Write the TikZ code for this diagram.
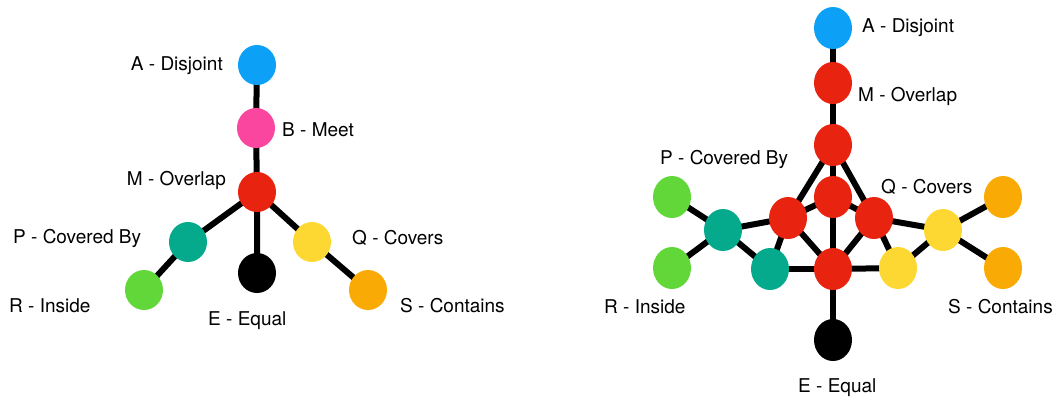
\documentclass[tikz,border=0pt]{standalone}
\usepackage{fontspec}
\setmainfont{TeX Gyre Heros}
\usetikzlibrary{shapes.geometric,backgrounds}
\definecolor{cblue}{RGB}{12,160,246}
\definecolor{cpink}{RGB}{250,70,158}
\definecolor{cred}{RGB}{232,35,15}
\definecolor{cteal}{RGB}{5,170,140}
\definecolor{cyellow}{RGB}{253,216,50}
\definecolor{cgreen}{RGB}{98,215,58}
\definecolor{corange}{RGB}{250,170,5}
\tikzset{
  dot/.style={ellipse,minimum width=38pt,minimum height=40pt,inner sep=0pt,fill=#1},
  rdot/.style={ellipse,minimum width=38pt,minimum height=42pt,inner sep=0pt,fill=#1},
  lbl/.style={inner sep=0pt,font=\fontsize{19}{23}\selectfont},
  link/.style={line width=6pt,black}
}
\begin{document}
\begin{tikzpicture}[x=1pt,y=-1pt]
\useasboundingbox (0,0) rectangle (1059,399);
% left diagram
\node[dot=cblue]   (lA) at (257,65) {};
\node[dot=cpink]   (lB) at (256,128) {};
\node[dot=cred]    (lM) at (257,192) {};
\node[dot=cteal]   (lP) at (188,242) {};
\node[dot=black]   (lE) at (257,273) {};
\node[dot=cyellow] (lQ) at (312,242) {};
\node[dot=cgreen]  (lR) at (144,290) {};
\node[dot=corange] (lS) at (368,290) {};
\node[lbl,anchor=east] (tlA) at (223,66) {A - Disjoint};
\node[lbl,anchor=west] (tlB) at (282,130) {B - Meet};
\node[lbl,anchor=east] (tlM) at (226,180) {M - Overlap};
\node[lbl,anchor=west] (tlP) at (13,238) {P - Covered By};
\node[lbl,anchor=west] (tlQ) at (352,238) {Q - Covers};
\node[lbl,anchor=west] (tlR) at (9,306) {R - Inside};
\node[lbl,anchor=west] (tlE) at (208,321) {E - Equal};
\node[lbl,anchor=west] (tlS) at (400,306) {S - Contains};
\begin{pgfonlayer}{background}
\draw[link] (lA.center) -- (lB.center) -- (lM.center) -- (lE.center);
\draw[link] (lM.center) -- (lP.center) -- (lR.center);
\draw[link] (lM.center) -- (lQ.center) -- (lS.center);
\end{pgfonlayer}
% right diagram
\node[rdot=cblue]   (rA)  at (833,28) {};
\node[rdot=cred]    (rM)  at (833,83) {};
\node[rdot=cred]    (rX)  at (833,145) {};
\node[rdot=cred]    (rC)  at (833,197) {};
\node[rdot=cred]    (rL)  at (788,218) {};
\node[rdot=cred]    (rRt) at (874,218) {};
\node[rdot=cred]    (rB)  at (833,269) {};
\node[rdot=black]   (rE)  at (833,340) {};
\node[rdot=cteal]   (rP1) at (723,230) {};
\node[rdot=cteal]   (rP2) at (770,269) {};
\node[rdot=cyellow] (rQ2) at (898,268) {};
\node[rdot=cyellow] (rQ1) at (943,230) {};
\node[rdot=cgreen]  (rR1) at (672,197) {};
\node[rdot=cgreen]  (rR2) at (672,268) {};
\node[rdot=corange] (rS1) at (1003,197) {};
\node[rdot=corange] (rS2) at (1003,268) {};
\node[lbl,anchor=west] (trA) at (862,28) {A - Disjoint};
\node[lbl,anchor=west] (trM) at (858,96) {M - Overlap};
\node[lbl,anchor=west] (trP) at (660,159) {P - Covered By};
\node[lbl,anchor=west] (trQ) at (881,187) {Q - Covers};
\node[lbl,anchor=west] (trR) at (604,307) {R - Inside};
\node[lbl,anchor=west] (trS) at (948,307) {S - Contains};
\node[lbl,anchor=west] (trE) at (798,388) {E - Equal};
\begin{pgfonlayer}{background}
\draw[link] (rA.center) -- (rM.center) -- (rX.center) -- (rB.center) -- (rE.center);
\draw[link] (rX.center) -- (rL.center);
\draw[link] (rX.center) -- (rRt.center);
\draw[link] (rL.center) -- (rC.center) -- (rRt.center);
\draw[link] (rL.center) -- (rB.center) -- (rRt.center);
\draw[link] (rL.center) -- (rP1.center);
\draw[link] (rL.center) -- (rP2.center);
\draw[link] (rRt.center) -- (rQ1.center);
\draw[link] (rRt.center) -- (rQ2.center);
\draw[link] (rB.center) -- (rP2.center);
\draw[link] (rB.center) -- (rQ2.center);
\draw[link] (rP1.center) -- (rP2.center);
\draw[link] (rQ1.center) -- (rQ2.center);
\draw[link] (rP1.center) -- (rR1.center);
\draw[link] (rP1.center) -- (rR2.center);
\draw[link] (rQ1.center) -- (rS1.center);
\draw[link] (rQ1.center) -- (rS2.center);
\end{pgfonlayer}
\end{tikzpicture}
\end{document}
